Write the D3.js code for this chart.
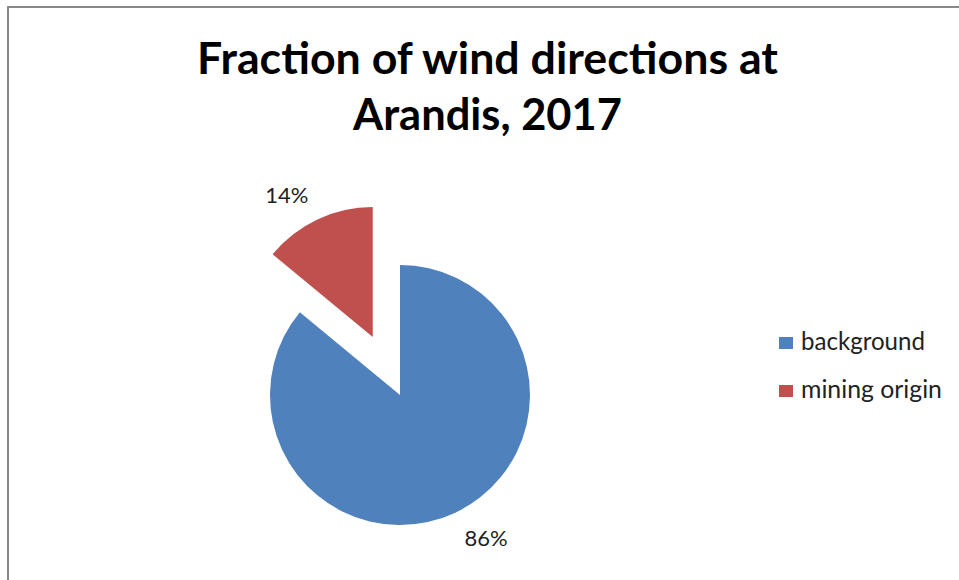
<!DOCTYPE html>
<html>
<head>
<meta charset="utf-8">
<script src="https://cdn.jsdelivr.net/npm/d3@7"></script>
<style>
  body { margin: 0; background: #fff; }
  svg { display: block; font-family: Lato, "Open Sans", sans-serif; }
</style>
</head>
<body>
<div id="chart"></div>
<script>
// chart data
const categories = ["background", "mining origin"];
const values = [86, 14];
const colors = ["#4F81BD", "#C0504D"];
const titleLines = ["Fraction of wind directions at", "Arandis, 2017"];
const explodeIndex = 1;

const width = 959, height = 580;
const cx = 400, cy = 395, radius = 130;
const explodeDist = 64;

const svg = d3.select("#chart").append("svg")
    .attr("width", width)
    .attr("height", height);

// chart frame
svg.append("rect")
    .attr("x", 8).attr("y", 7)
    .attr("width", width + 20).attr("height", height + 20)
    .attr("fill", "none")
    .attr("stroke", "#888")
    .attr("stroke-width", 2);

// fit a text element to a target width
function fitWidth(sel, target) {
    const w = sel.node().getComputedTextLength();
    const fs = parseFloat(sel.attr("font-size"));
    sel.attr("font-size", fs * target / w);
}

// title
const titleWidths = [581, 269];
const titleBase = [74, 130];
titleLines.forEach(function (t, i) {
    const el = svg.append("text")
        .attr("x", 487.5)
        .attr("y", titleBase[i])
        .attr("text-anchor", "middle")
        .attr("font-weight", "bold")
        .attr("font-size", 44)
        .attr("fill", "#000")
        .text(t);
    fitWidth(el, titleWidths[i]);
});

// pie
const pie = d3.pie().sort(null).value(d => d.value);
const arcs = pie(categories.map((c, i) => ({name: c, value: values[i], color: colors[i]})));
const arc = d3.arc().innerRadius(0).outerRadius(radius);

const g = svg.append("g").attr("transform", "translate(" + cx + "," + cy + ")");

function offsetOf(d, i) {
    if (i !== explodeIndex) return [0, 0];
    const a = (d.startAngle + d.endAngle) / 2;
    return [Math.sin(a) * explodeDist, -Math.cos(a) * explodeDist];
}

g.selectAll("path.slice")
    .data(arcs)
    .enter().append("path")
    .attr("class", "slice")
    .attr("transform", (d, i) => "translate(" + offsetOf(d, i) + ")")
    .attr("d", arc)
    .attr("fill", d => d.data.color);

// percentage labels, outside end
const total = d3.sum(values);
const labelR = radius + 18;
const boxW = 46, boxH = 20;
g.selectAll("text.lbl")
    .data(arcs)
    .enter().append("text")
    .attr("class", "lbl")
    .attr("text-anchor", "middle")
    .attr("dominant-baseline", "central")
    .attr("font-size", 22)
    .attr("fill", "#222")
    .attr("x", (d, i) => {
        const a = (d.startAngle + d.endAngle) / 2;
        return offsetOf(d, i)[0] + Math.sin(a) * labelR + Math.sign(Math.sin(a)) * boxW / 2;
    })
    .attr("y", (d, i) => {
        const a = (d.startAngle + d.endAngle) / 2;
        return offsetOf(d, i)[1] - Math.cos(a) * labelR - Math.cos(a) * boxH / 2;
    })
    .text(d => Math.round(d.data.value / total * 100) + "%");

// legend
const legend = svg.append("g").attr("transform", "translate(779,337)");
const legendWidths = [124, 141];
categories.forEach(function (c, i) {
    const row = legend.append("g").attr("transform", "translate(0," + (i * 48) + ")");
    row.append("rect")
        .attr("width", 14).attr("height", 12)
        .attr("fill", colors[i]);
    const t = row.append("text")
        .attr("x", 22).attr("y", 13)
        .attr("font-size", 21)
        .attr("fill", "#222")
        .text(c);
    fitWidth(t, legendWidths[i]);
});
</script>
</body>
</html>
